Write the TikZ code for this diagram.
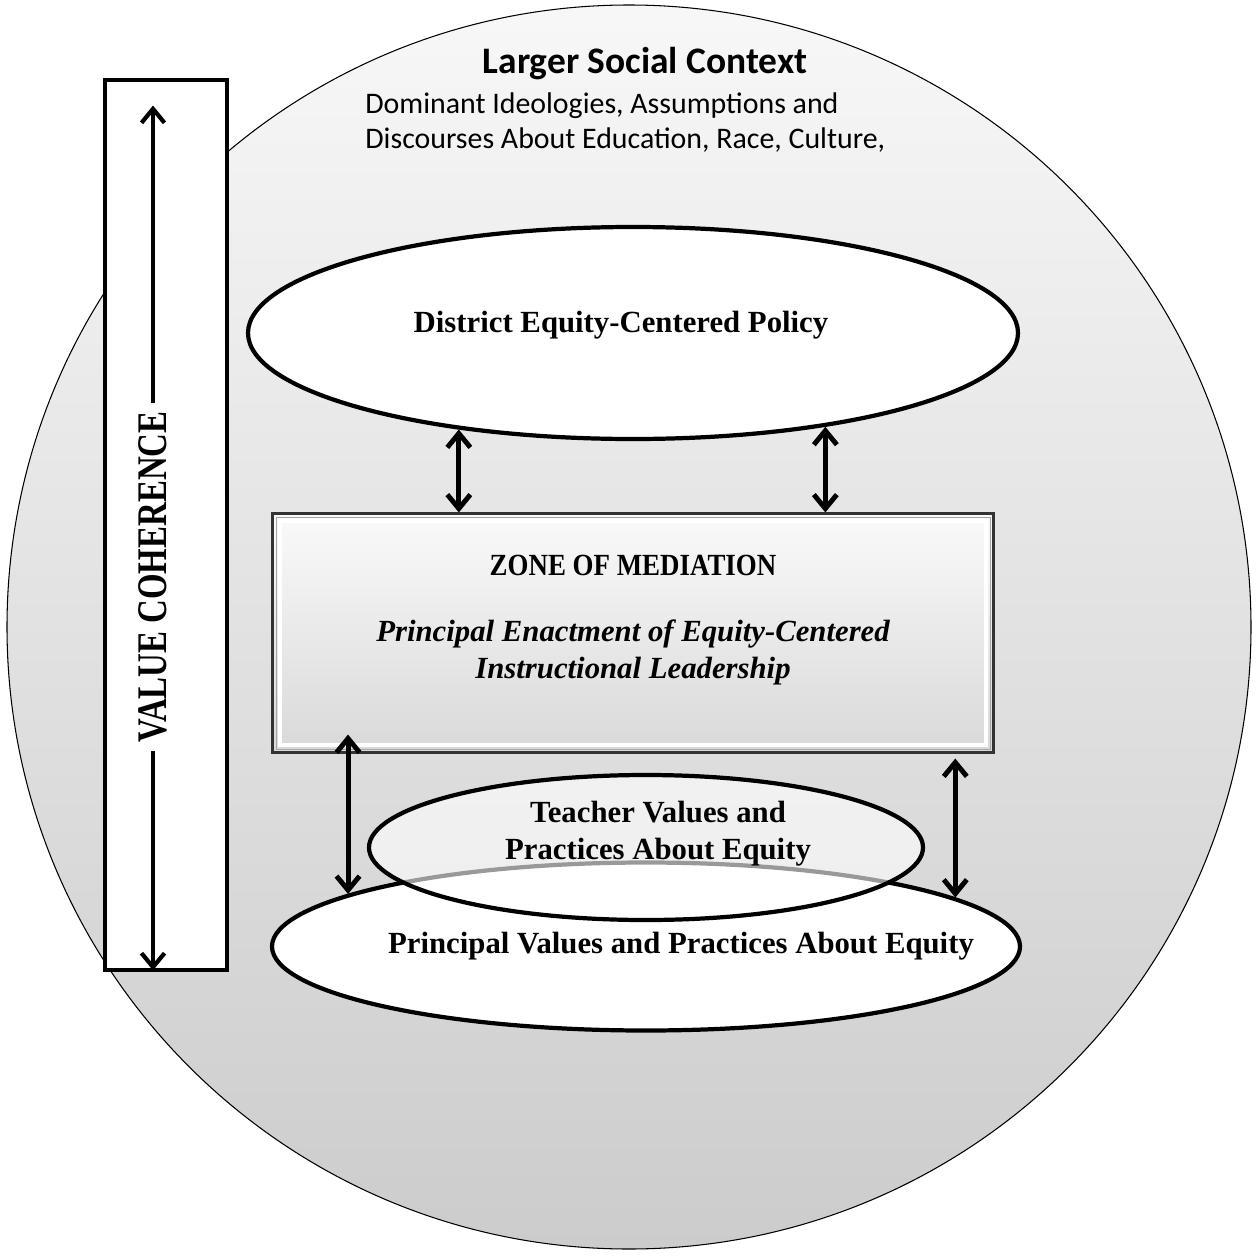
\documentclass[tikz,border=0pt]{standalone}
\usepackage{fontspec}
\setmainfont{Liberation Serif}
\newfontfamily\ctxfont{Carlito}
\usetikzlibrary{positioning,shapes.geometric,arrows.meta,calc}

\begin{document}
\begin{tikzpicture}[node distance=2cm,on grid,
    biarrow/.style={{Straight Barb[length=0.28cm,width=0.46cm]}-{Straight Barb[length=0.28cm,width=0.46cm]}, line width=2.8pt},
    oval/.style={ellipse, draw, line width=2.4pt, fill=white, inner sep=0pt},
    zonebox/.style={rectangle, draw=black!80, line width=1.2pt, top color=gray!4, bottom color=gray!30},
    boxtext/.style={font=\fontsize{17.5}{21}\selectfont\bfseries, align=center}]

    \useasboundingbox (0,0) rectangle (25.1,-25.14);

    \node[circle, draw, line width=0.6pt, top color=gray!6, bottom color=gray!40, minimum size=24.88cm, inner sep=0pt] (ctx) at (12.58,-12.54) {};
    \node[font=\ctxfont\fontsize{21.3}{25}\selectfont\bfseries] (title) at (12.9,-1.28) {Larger Social Context};
    \node[font=\ctxfont\fontsize{17}{20.2}\selectfont, align=left, anchor=north west, inner sep=0pt] (discourse) at (7.3,-1.84) {Dominant Ideologies, Assumptions and\\Discourses About Education, Race, Culture,};

    % value coherence bar
    \node[draw, line width=2.8pt, fill=white, minimum width=2.44cm, minimum height=17.8cm] (vbox) at (3.32,-10.5) {};
    \coordinate (vtop) at ($(vbox.north)+(-0.26,-0.56)$);
    \coordinate (vbot) at ($(vbox.south)+(-0.26,0.04)$);
    \draw[biarrow, line width=2.4pt] (vtop) -- node[pos=0.545, fill=white, rotate=90, inner xsep=5pt, font=\fontsize{24}{28}\selectfont\bfseries] (vlabel) {\scalebox{0.78}[1]{VALUE COHERENCE}} (vbot);

    \node[oval, minimum width=15.4cm, minimum height=4.24cm] (district) [above=5.88cm of ctx, xshift=0.08cm] {};
    \node[boxtext] (districttext) [above=0.16cm of district, xshift=-0.24cm] {District Equity-Centered Policy};

    \node[zonebox, minimum width=14.42cm, minimum height=4.78cm] (zone) [below=6cm of district] {};
    \draw[white, line width=1.8pt] ([shift={(0.17,-0.17)}]zone.north west) rectangle ([shift={(-0.17,0.17)}]zone.south east);
    \draw[gray!70, line width=0.5pt] ([shift={(0.09,-0.09)}]zone.north west) rectangle ([shift={(-0.09,0.09)}]zone.south east);
    \node[boxtext] (zonetext) [above=0.26cm of zone] {\scalebox{0.875}[1]{ZONE OF MEDIATION}\\[0.58cm]\itshape Principal Enactment of Equity-Centered\\\itshape Instructional Leadership};

    \node[oval, minimum width=14.96cm, minimum height=3.36cm] (principal) [below=6.27cm of zone, xshift=0.26cm] {};
    \node[oval, fill opacity=0.6, minimum width=11.08cm, minimum height=2.9cm] (teacher) [above=1.98cm of principal] {};
    \node[boxtext] (principaltext) [right=0.7cm of principal] {Principal Values and Practices About Equity};
    \node[boxtext] (teachertext) [above=0.27cm of teacher, xshift=0.24cm] {Teacher Values and\\Practices About Equity};

    \path[biarrow]
    (district.209.6) edge (district.209.6 |- zone.north)
    (district.334.4) edge (district.334.4 |- zone.north)
    (principal.170.6) edge ($(principal.170.6 |- zone.south)+(0,0.38)$)
    (principal.9.6) edge ($(principal.9.6 |- zone.south)+(0,-0.1)$);
\end{tikzpicture}
\end{document}
